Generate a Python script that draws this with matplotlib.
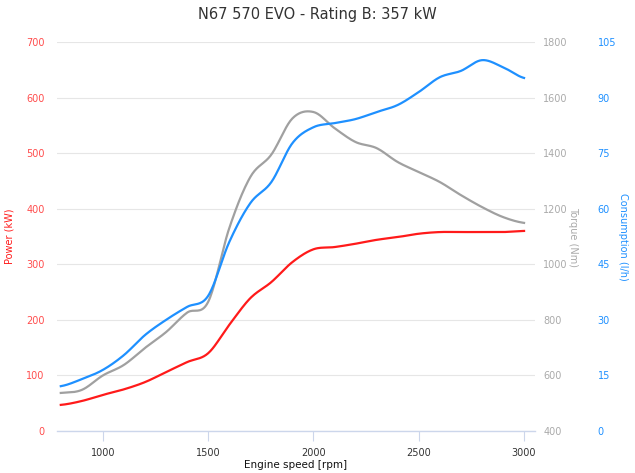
import numpy as np
import matplotlib
matplotlib.use("Agg")
import matplotlib.pyplot as plt

# engine speed points, every 100 rpm
rpm = [800, 900, 1000, 1100, 1200, 1300, 1400, 1500, 1600, 1700, 1800, 1900,
       2000, 2100, 2200, 2300, 2400, 2500, 2600, 2700, 2800, 2900, 3000]
power = [47, 54, 65, 75, 88, 106, 124, 140, 191, 239, 268, 304,
         327, 331, 337, 344, 349, 355, 358, 358, 358, 358, 360]
torque = [537, 548, 600, 638, 699, 756, 826, 865, 1130, 1314, 1395, 1525,
          1548, 1490, 1440, 1418, 1368, 1332, 1296, 1249, 1206, 1170, 1149]
consumption = [12.1, 14.0, 16.5, 20.5, 25.9, 30.0, 33.5, 36.5, 51.0, 61.5, 67.2, 77.7,
               82.0, 83.1, 84.2, 86.1, 88.0, 91.5, 95.5, 97.2, 100.1, 98.2, 95.3]

power_ticks = [0, 100, 200, 300, 400, 500, 600, 700]
torque_ticks = [400, 600, 800, 1000, 1200, 1400, 1600, 1800]
cons_ticks = [0, 15, 30, 45, 60, 75, 90, 105]
rpm_ticks = [1000, 1500, 2000, 2500, 3000]


def smooth(x, y, n=20):
    # catmull-rom through the points, like a chart "spline" series
    x = np.asarray(x, float)
    y = np.asarray(y, float)
    px = np.concatenate([[2 * x[0] - x[1]], x, [2 * x[-1] - x[-2]]])
    py = np.concatenate([[y[0]], y, [y[-1]]])
    xs, ys = [], []
    t = np.linspace(0, 1, n, endpoint=False)
    for i in range(1, len(px) - 2):
        for p, out in ((px, xs), (py, ys)):
            p0, p1, p2, p3 = p[i - 1], p[i], p[i + 1], p[i + 2]
            out.extend(0.5 * (2 * p1 + (-p0 + p2) * t
                              + (2 * p0 - 5 * p1 + 4 * p2 - p3) * t ** 2
                              + (-p0 + 3 * p1 - 3 * p2 + p3) * t ** 3))
    xs.append(x[-1])
    ys.append(y[-1])
    return np.array(xs), np.array(ys)


red = "#ff1a1a"
gray = "#a0a0a0"
blue = "#1e90ff"

fig = plt.figure(figsize=(6.35, 4.73), dpi=100)
ax = fig.add_axes([57 / 635, 1 - 431 / 473, (535 - 57) / 635, (431 - 42) / 473])
ax2 = ax.twinx()
ax3 = ax.twinx()

ax.plot(*smooth(rpm, power), color=red, lw=1.6, zorder=3)
ax2.plot(*smooth(rpm, torque), color=gray, lw=1.6)
ax3.plot(*smooth(rpm, consumption), color=blue, lw=1.6)

ax.set_xlim(782, 3052)
ax.set_ylim(0, 700)
ax2.set_ylim(400, 1800)
ax3.set_ylim(0, 105)

for a in (ax, ax2, ax3):
    for s in a.spines.values():
        s.set_visible(False)
ax.spines["bottom"].set_visible(True)
ax.spines["bottom"].set_color("#ccd6eb")
ax.spines["bottom"].set_linewidth(1.0)

ax.set_yticks(power_ticks)
ax.grid(axis="y", color="#e6e6e6", lw=0.8)
ax.set_axisbelow(True)
ax.tick_params(axis="y", length=0, pad=9, labelsize=7, labelcolor="#ff4d4d")
ax.set_xticks(rpm_ticks)
ax.set_xticklabels([str(v) for v in rpm_ticks])
ax.tick_params(axis="x", length=7, width=0.8, color="#ccd6eb", labelsize=7,
               labelcolor="#333333", pad=5)
ax.set_xlabel("Engine speed [rpm]", fontsize=7.5, color="#111111", labelpad=2)
ax.set_ylabel("Power (kW)", fontsize=7, color=red, labelpad=8)

ax2.set_yticks(torque_ticks)
ax2.tick_params(axis="y", length=0, pad=6, labelsize=7, labelcolor="#aaaaaa")
ax2.set_ylabel("Torque (Nm)", fontsize=7, color="#aaaaaa", rotation=270, labelpad=7)

ax3.spines["right"].set_position(("outward", 45))
ax3.set_yticks(cons_ticks)
ax3.tick_params(axis="y", length=0, pad=0, labelsize=7, labelcolor=blue)
ax3.set_ylabel("Consumption (l/h)", fontsize=7, color=blue, rotation=270, labelpad=9)

fig.suptitle("N67 570 EVO - Rating B: 357 kW", y=0.985, fontsize=10.5, color="#333333")

fig.savefig("out.png", dpi=100)
